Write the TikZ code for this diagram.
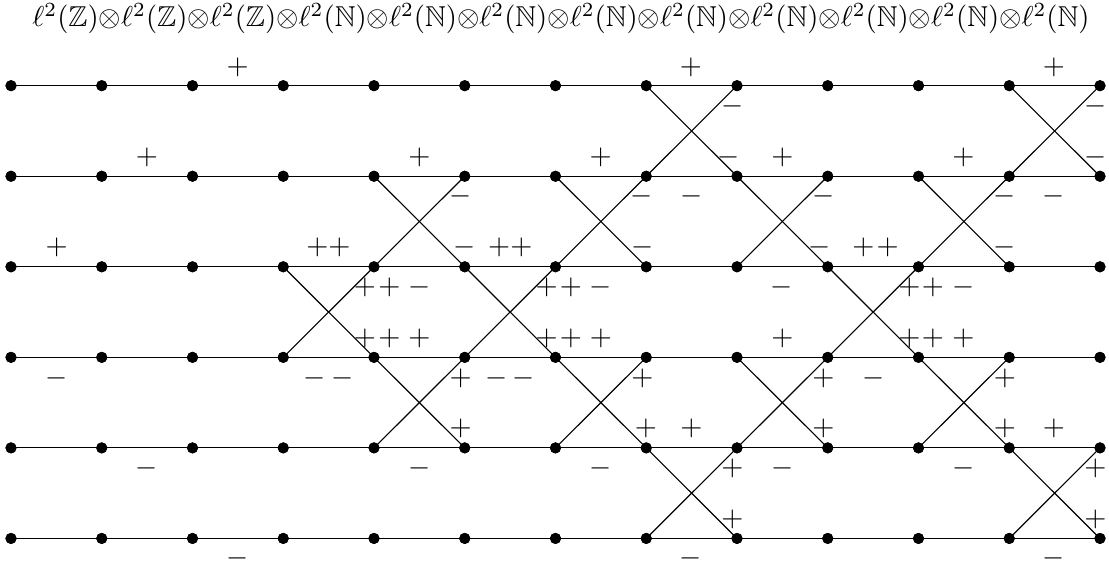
\documentclass[tikz,border=0pt]{standalone}
\usepackage{amssymb}
\begin{document}
\begin{tikzpicture}[x=0.352pt,y=-0.352pt,
  dot/.style={circle,fill=black,inner sep=0pt,minimum size=3.9pt},
  sgn/.style={inner sep=0pt},
  link/.style={draw=black,line width=0.4pt}]
\useasboundingbox (0,0) rectangle (1109,567);
\node[scale=1.012] (title) at (561,18.8) {$\ell^2(\mathbb{Z}){\otimes}\ell^2(\mathbb{Z}){\otimes}\ell^2(\mathbb{Z}){\otimes}\ell^2(\mathbb{N}){\otimes}\ell^2(\mathbb{N}){\otimes}\ell^2(\mathbb{N}){\otimes}\ell^2(\mathbb{N}){\otimes}\ell^2(\mathbb{N}){\otimes}\ell^2(\mathbb{N}){\otimes}\ell^2(\mathbb{N}){\otimes}\ell^2(\mathbb{N}){\otimes}\ell^2(\mathbb{N})$};
% dots
\foreach \i in {0,...,12}
  \foreach \j in {0,...,5}
    \node[dot] (d\i-\j) at ({11+90.75*\i},{85.7+90.55*\j}) {};
% horizontal edges
\foreach \j in {0,...,5}{
  \foreach \i in {0,...,11}{
    \pgfmathtruncatemacro\k{\i+1}
    \draw[link] (d\i-\j.center) -- (d\k-\j.center);
  }
}
% crossings
\foreach \i/\j in {7/0,11/0,4/1,6/1,8/1,10/1,3/2,5/2,9/2,4/3,6/3,8/3,10/3,7/4,11/4}{
  \pgfmathtruncatemacro\k{\i+1}
  \pgfmathtruncatemacro\l{\j+1}
  \draw[link] (d\i-\j.center) -- (d\k-\l.center);
  \draw[link] (d\i-\l.center) -- (d\k-\j.center);
}
% redraw dots on top
\foreach \i in {0,...,12}
  \foreach \j in {0,...,5}
    \fill (d\i-\j) circle[radius=1.95pt];
% signs
\foreach \x/\y/\s [count=\n] in {
  237.7/67.3/+, 691/67.3/+, 1054/67.3/+,
  732.5/106/-, 1095.7/106/-,
  147/157.7/+, 419.3/157.7/+, 600.7/157.7/+, 729/157.7/-, 782.3/157.7/+, 963.3/157.7/+, 1095.7/157.7/-,
  460.7/196/-, 642/196/-, 691.3/196/-, 824/196/-, 1005/196/-, 1054/196/-,
  56.7/247.7/+, 328.5/247.7/++, 465/247.7/-, 510.3/247.7/++, 642.5/247.7/-, 819.3/247.7/-, 863.3/247.7/+, 887.7/247.7/+, 1005/247.7/-,
  365/287.7/+, 389.3/287.7/+, 419.3/287.7/-, 546.7/287.7/+, 571/287.7/+, 601/287.7/-, 781.7/287.7/-, 909.3/287.7/+, 933/287.7/+, 963.3/287.7/-,
  365/338.7/+, 389.3/338.7/+, 419.3/338.7/+, 546.7/338.7/+, 571/338.7/+, 601/338.7/+, 782.3/338.7/+, 909.3/338.7/+, 933/338.7/+, 963.3/338.7/+,
  56.7/378.3/-, 315/378.3/-, 342.7/378.3/-, 460.7/378.3/+, 496.7/378.3/-, 524/378.3/-, 642.3/378.3/+, 823.3/378.3/+, 873.3/378.3/-, 1005/378.3/+,
  460.7/428.7/+, 646/428.7/+, 691.3/428.7/+, 823.3/428.7/+, 1005/428.7/+, 1054/428.7/+,
  147/468.3/-, 419.3/468.3/-, 600.7/468.3/-, 732.5/468.3/+, 782.3/468.3/-, 963.3/468.3/-, 1095.3/468.3/+,
  732.5/519.3/+, 1095.3/519.3/+,
  237.7/558.3/-, 691/558.3/-, 1054/558.3/-}
  \node[sgn] (s\n) at (\x,\y) {$\s$};
\end{tikzpicture}
\end{document}
